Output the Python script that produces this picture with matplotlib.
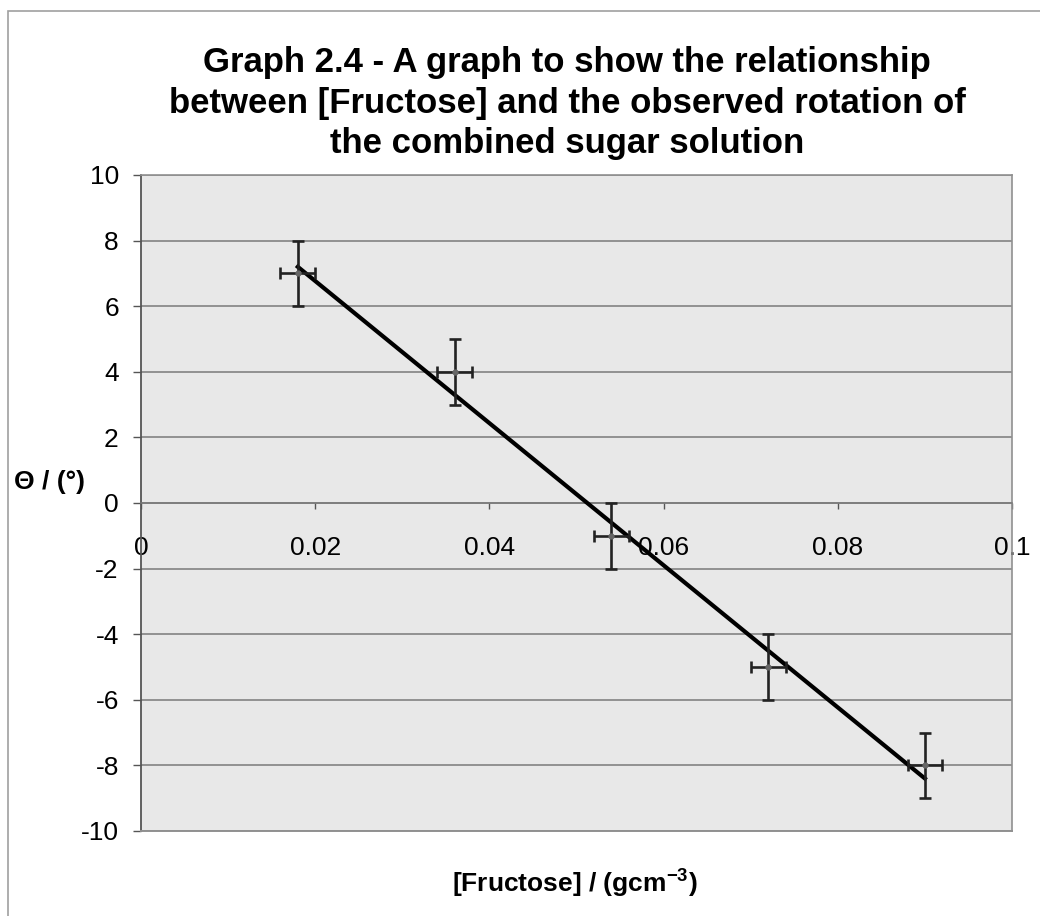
import matplotlib.pyplot as plt
import numpy as np
from matplotlib.patches import Rectangle

plt.rcParams['font.family'] = ['Liberation Sans', 'DejaVu Sans']
plt.rcParams['axes.unicode_minus'] = False

# dados
frutose = [0.018, 0.036, 0.054, 0.072, 0.090]
rotacao = [7, 4, -1, -5, -8]
erroX = [0.002, 0.002, 0.002, 0.002, 0.002]
erroY = [1, 1, 1, 1, 1]
ticksX = [0, 0.02, 0.04, 0.06, 0.08, 0.1]
labelsX = ['0', '0.02', '0.04', '0.06', '0.08', '0.1']
ticksY = [-10, -8, -6, -4, -2, 0, 2, 4, 6, 8, 10]

fig = plt.figure(figsize=(10.4, 9.16), dpi=100)
ax = fig.add_axes([0.1356, 0.0928, 0.8375, 0.7162])

# moldura exterior do grafico
fig.patches.append(Rectangle((8 / 1040, -0.1), 1.2, 1.1 - 11 / 916, transform=fig.transFigure,
                             fill=False, edgecolor='#a0a0a0', linewidth=1.2))

ax.set_facecolor('#e8e8e8')
ax.set_xlim(0, 0.1)
ax.set_ylim(-10, 10)

for y in ticksY:
    ax.axhline(y, color='#7a7a7a', linewidth=1.1, zorder=1)

# linha de tendencia
a, b = np.polyfit(frutose, rotacao, 1)
xs = np.array([min(frutose), max(frutose)])
ax.plot(xs, a * xs + b, color='black', linewidth=3, zorder=3)

ax.errorbar(frutose, rotacao, xerr=erroX, yerr=erroY, fmt='o', markersize=3.5,
            color='#666666', ecolor='#222222', elinewidth=1.9, capsize=4.5,
            capthick=1.9, zorder=4)

for lado in ['top', 'right']:
    ax.spines[lado].set_color('#909090')
    ax.spines[lado].set_linewidth(1.2)
ax.spines['left'].set_color('#555555')
ax.spines['left'].set_linewidth(1.3)
ax.spines['bottom'].set_position(('data', 0))
ax.spines['bottom'].set_color('#7a7a7a')
ax.spines['bottom'].set_linewidth(1.1)
ax.axhline(-10, color='#909090', linewidth=1.4, zorder=5, clip_on=False)

ax.set_xticks(ticksX)
ax.set_xticklabels(labelsX)
ax.set_yticks(ticksY)
ax.tick_params(axis='x', direction='out', length=4.5, width=1, color='#555555',
               pad=19, labelsize=19)
ax.tick_params(axis='y', direction='out', length=6, width=1, color='#555555',
               pad=10, labelsize=19)

fig.text(567 / 1040, 1 - 103 / 916,
         'Graph 2.4 - A graph to show the relationship\n'
         'between [Fructose] and the observed rotation of\n'
         'the combined sugar solution',
         ha='center', va='center', fontsize=25, fontweight='bold', linespacing=1.3)
fig.text(575 / 1040, 1 - 883 / 916, '[Fructose] / (gcm$^{\\mathregular{-3}}$)',
         ha='center', va='center', fontsize=19, fontweight='bold')
fig.text(50 / 1040, 1 - 482 / 916, 'Θ / (°)', ha='center', va='center',
         fontsize=19, fontweight='bold')

plt.savefig('out.png', dpi=100)
